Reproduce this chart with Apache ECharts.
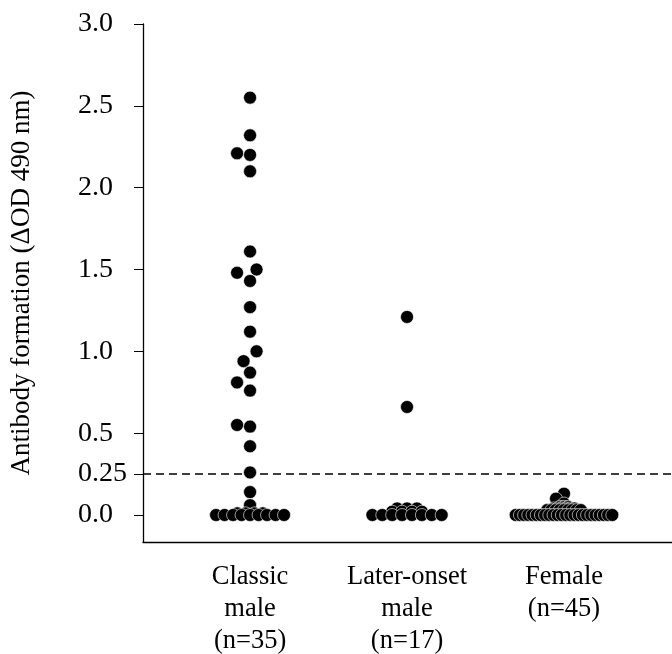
<!DOCTYPE html>
<html>
<head>
<meta charset="utf-8">
<script src="https://cdn.jsdelivr.net/npm/echarts@6/dist/echarts.min.js"></script>
<style>
  html, body { margin: 0; padding: 0; background: #fff; }
  #chart { width: 672px; height: 654px; }
</style>
</head>
<body>
<div id="chart"></div>
<script>
// Data
var categories = ['Classic\nmale\n(n=35)', 'Later-onset\nmale\n(n=17)', 'Female\n(n=45)'];
var classicMale = [2.55, 2.32, 2.21, 2.20, 2.10, 1.61, 1.50, 1.48, 1.43, 1.27, 1.12, 1.00, 0.94, 0.87, 0.81, 0.76,
    0.55, 0.54, 0.42, 0.26, 0.14, 0.06, 0.01, 0.01, 0.01, 0.01, 0, 0, 0, 0, 0, 0, 0, 0, 0];
var laterOnsetMale = [1.21, 0.66, 0.04, 0.04, 0.04, 0.02, 0.02, 0.02, 0.02, 0, 0, 0, 0, 0, 0, 0, 0];
var female = [0.13, 0.10, 0.07, 0.05, 0.05, 0.05, 0.04, 0.04, 0.04, 0.04, 0.04, 0.04,
    0.03, 0.03, 0.03, 0.03, 0.03, 0.03, 0.03, 0.03, 0.03,
    0, 0, 0, 0, 0, 0, 0, 0, 0, 0, 0, 0, 0, 0, 0, 0, 0, 0, 0, 0, 0, 0, 0, 0];
var yTicks = [0, 0.25, 0.5, 1, 1.5, 2, 2.5, 3];
var cutoff = 0.25;

// layout
var W = 672, H = 654;
var GRID = { left: 143, right: 0, top: 24, bottom: 112, outerBoundsMode: 'none' };
var X_MIN = 0.318, X_MAX = 3.688;
var Y_MIN = -0.165, Y_MAX = 3;
var PX_PER_X = (W - GRID.left - GRID.right) / (X_MAX - X_MIN);
var PX_PER_Y = (H - GRID.top - GRID.bottom) / (Y_MAX - Y_MIN);
var FONT = 'Liberation Serif';

// simple beeswarm: tied values go in a centred row, single values dodge each other
function swarm(values, rowStep, minDist) {
    var counts = {};
    values.forEach(function (v) { counts[v] = (counts[v] || 0) + 1; });
    var distinct = Object.keys(counts).map(Number).sort(function (a, b) { return a - b; });
    var out = [], singles = [];
    var s = minDist / 2;
    distinct.forEach(function (v) {
        var n = counts[v];
        var py = v * PX_PER_Y;
        if (n > 1) {
            for (var i = 0; i < n; i++) out.push({ v: v, dx: (i - (n - 1) / 2) * rowStep });
        } else {
            var dx = 0;
            for (var k = 0; k < 40; k++) {
                var cand = k === 0 ? 0 : (k % 2 ? -Math.ceil(k / 2) * s : Math.ceil(k / 2) * s);
                var ok = singles.every(function (p) {
                    return Math.hypot(p.dx - cand, p.py - py) >= minDist - 0.01;
                });
                if (ok) { dx = cand; break; }
            }
            singles.push({ dx: dx, py: py });
            out.push({ v: v, dx: dx });
        }
    });
    // higher dots first so the zero row sits on top
    out.sort(function (a, b) { return b.v - a.v; });
    return out;
}

function toPoints(values, xc, rowStep, minDist) {
    return swarm(values, rowStep, minDist).map(function (p) {
        return [xc + p.dx / PX_PER_X, p.v];
    });
}

var dotStyle = { color: '#000', opacity: 1, borderColor: 'rgba(255,255,255,0.75)', borderWidth: 0.8 };

var groups = [
    toPoints(classicMale, 1, 8.5, 13),
    toPoints(laterOnsetMale, 2, 9.9, 13),
    toPoints(female, 3, 4.2, 8)
];

var chart = echarts.init(document.getElementById('chart'), null, { renderer: 'canvas' });

var series = groups.map(function (pts, i) {
    var s = {
        type: 'scatter',
        data: pts,
        symbol: 'circle',
        symbolSize: 13,
        itemStyle: dotStyle,
        silent: true,
        z: 3
    };
    if (i === 0) {
        s.markLine = {
            silent: true,
            symbol: 'none',
            label: { show: false },
            lineStyle: { color: '#000', width: 1.5, type: [8, 5] },
            data: [{ yAxis: cutoff }],
            z: 2
        };
    }
    return s;
});

chart.setOption({
    backgroundColor: '#fff',
    animation: false,
    grid: GRID,
    xAxis: {
        type: 'value',
        min: X_MIN,
        max: X_MAX,
        splitLine: { show: false },
        axisLine: { onZero: false, lineStyle: { color: '#000', width: 1.3 } },
        axisTick: { show: false },
        axisLabel: {
            customValues: [1, 2, 3],
            formatter: function (v) { return categories[Math.round(v) - 1] || ''; },
            color: '#000',
            fontFamily: FONT,
            fontSize: 26.5,
            lineHeight: 32,
            margin: 19,
            verticalAlign: 'top'
        }
    },
    yAxis: {
        type: 'value',
        min: Y_MIN,
        max: Y_MAX,
        name: 'Antibody formation (ΔOD 490 nm)',
        nameLocation: 'middle',
        nameGap: 108,
        nameTextStyle: { color: '#000', fontFamily: FONT, fontSize: 27 },
        splitLine: { show: false },
        axisLine: { show: true, onZero: false, lineStyle: { color: '#000', width: 1.3 } },
        axisTick: { show: true, length: 9, customValues: yTicks, lineStyle: { color: '#000' } },
        axisLabel: {
            customValues: yTicks,
            formatter: function (v) { return v === 0.25 ? '0.25' : v.toFixed(1); },
            color: '#000',
            fontFamily: FONT,
            fontSize: 28,
            align: 'left',
            margin: 65
        }
    },
    series: series
});
</script>
</body>
</html>
